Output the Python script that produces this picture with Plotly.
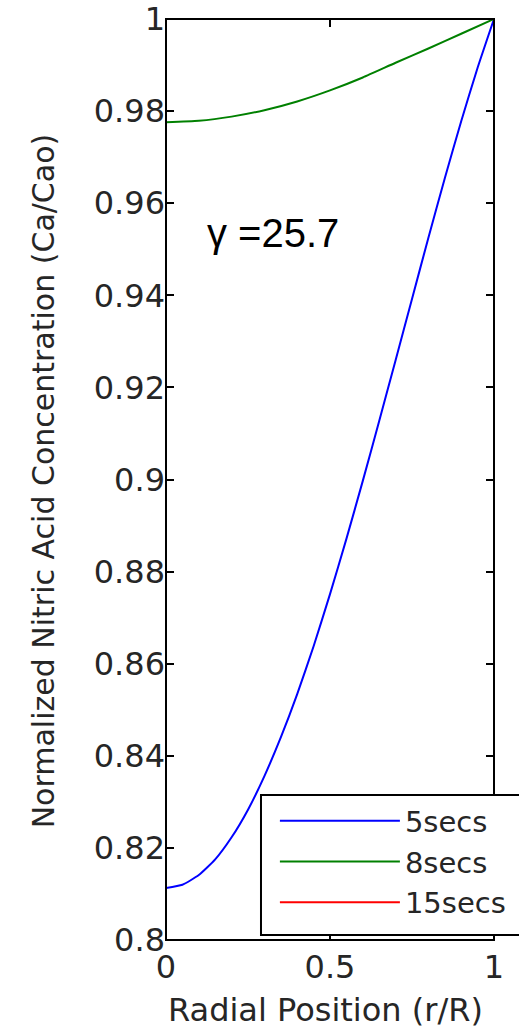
import plotly.graph_objects as go

# Radial position r/R and normalized concentration profiles
r_5s = [0, 0.05, 0.1, 0.15, 0.2, 0.25, 0.3, 0.35, 0.4, 0.45, 0.5,
        0.55, 0.6, 0.65, 0.7, 0.75, 0.8, 0.85, 0.9, 0.95, 1.0]
c_5s = [0.8113, 0.8120, 0.8141, 0.8175, 0.8223, 0.8283, 0.8356, 0.8440,
        0.8534, 0.8638, 0.8751, 0.8871, 0.8997, 0.9127, 0.9259, 0.9392,
        0.9525, 0.9654, 0.9778, 0.9894, 1.0]

r_8s = [0, 0.1, 0.2, 0.3, 0.4, 0.5, 0.6, 0.7, 0.8, 0.9, 1.0]
c_8s = [0.9776, 0.9779, 0.9788, 0.9802, 0.9821, 0.9845, 0.9873, 0.9905,
        0.9936, 0.9968, 1.0]

r_15s = [0, 1.0]
c_15s = [1.0, 1.0]

series_names = ["5secs", "8secs", "15secs"]
series_colors = ["#0000ff", "#008000", "#ff0000"]

y_ticks = [0.8, 0.82, 0.84, 0.86, 0.88, 0.9, 0.92, 0.94, 0.96, 0.98, 1.0]
y_labels = ["0.8", "0.82", "0.84", "0.86", "0.88", "0.9",
            "0.92", "0.94", "0.96", "0.98", "1"]
x_ticks = [0, 0.5, 1]
x_labels = ["0", "0.5", "1"]

x_title = "Radial Position (r/R)"
y_title = "Normalized Nitric Acid Concentration (Ca/Cao)"
note = "γ =25.7"

FONT = "DejaVu Sans, Arial, sans-serif"
TXT = "#262626"

fig = go.Figure()
for rx, cy, name, col in zip([r_5s, r_8s, r_15s], [c_5s, c_8s, c_15s],
                              series_names, series_colors):
    fig.add_trace(go.Scatter(x=rx, y=cy, mode="lines", name=name,
                             legendgroup=name,
                             line=dict(color=col, width=2, shape="spline",
                                       smoothing=0.5)))

axis_common = dict(showgrid=False, zeroline=False, showline=False,
                   mirror="ticks", automargin=False,
                   ticks="inside", ticklen=8, tickwidth=2, tickcolor="black",
                   tickfont=dict(family=FONT, size=32, color=TXT))

fig.update_xaxes(range=[0, 1], tickvals=x_ticks, ticktext=x_labels,
                 ticklabelstandoff=5, **axis_common)
fig.update_yaxes(range=[0.8, 1.0], tickvals=y_ticks, ticktext=y_labels,
                 **axis_common)

# axis titles
fig.add_annotation(x=0.485, y=-0.076, xref="paper", yref="paper",
                   xanchor="center", yanchor="middle", showarrow=False,
                   text=x_title, font=dict(family=FONT, size=32, color=TXT))
fig.add_annotation(x=-0.375, y=0.498, xref="paper", yref="paper",
                   xanchor="center", yanchor="middle", showarrow=False,
                   textangle=-90,
                   text=y_title, font=dict(family=FONT, size=30, color=TXT))

# axes frame drawn on top of the curves
fig.add_shape(type="rect", xref="paper", yref="paper", x0=0, x1=1, y0=0, y1=1,
              line=dict(color="black", width=2), layer="above")
# legend box
fig.add_shape(type="rect", xref="paper", yref="paper",
              x0=0.2896, x1=1.1, y0=0.0054, y1=0.1574,
              line=dict(color="black", width=2), fillcolor="white",
              layer="above")

fig.add_annotation(x=0.118, y=0.768, xref="paper", yref="paper",
                   xanchor="left", yanchor="middle", showarrow=False,
                   text=note,
                   font=dict(family="Liberation Sans, Arial, sans-serif",
                             size=40, color="black"))

fig.update_layout(
    width=519, height=1031,
    margin=dict(l=166, r=25, t=19, b=91, autoexpand=False),
    plot_bgcolor="white", paper_bgcolor="white",
    legend=dict(x=0.332, y=0.157, xanchor="left", yanchor="top",
                bgcolor="rgba(0,0,0,0)", borderwidth=0,
                itemwidth=120, tracegroupgap=5, traceorder="normal",
                font=dict(family=FONT, size=29, color=TXT)),
)

fig.write_html("out.html")
